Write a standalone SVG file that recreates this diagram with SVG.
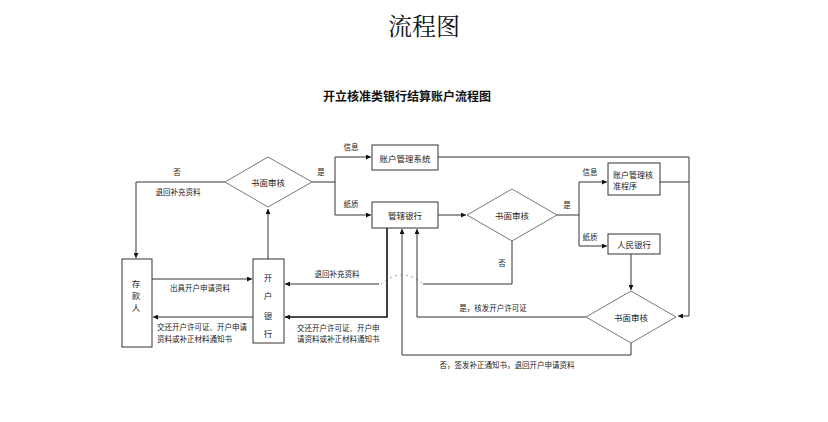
<svg xmlns="http://www.w3.org/2000/svg" width="828" height="422" viewBox="0 0 828 422">
<style>
text{font-family:"Noto Sans CJK SC","Liberation Sans",sans-serif;fill:#222}
.t{font-family:"Noto Serif CJK SC","Noto Sans CJK SC",serif;font-size:24px;text-anchor:middle;fill:#111}
.st{font-size:12px;font-weight:600;text-anchor:middle;fill:#111}
.n{font-size:8.5px;text-anchor:middle;dominant-baseline:central}
.l{font-size:7.5px}
.c{text-anchor:middle}
.box{fill:#fff;stroke:#333;stroke-width:1}
.dia{fill:#fff;stroke:#555;stroke-width:0.8}
.ln{fill:none;stroke:#333;stroke-width:1}
.th{fill:none;stroke:#111;stroke-width:1.6}
.dot{fill:none;stroke:#555;stroke-width:0.8;stroke-dasharray:1.5 4}
</style>
<defs>
<marker id="a" viewBox="0 0 10 10" refX="10" refY="5" markerWidth="5" markerHeight="5" orient="auto" markerUnits="userSpaceOnUse">
<path d="M0,0 L10,5 L0,10 z" fill="#111"/>
</marker>
</defs>
<rect width="828" height="422" fill="#fff"/>
<text class="t" x="424" y="35">流程图</text>
<text class="st" x="407" y="101">开立核准类银行结算账户流程图</text>

<g id="connectors">
<path class="ln" d="M225,182 H136 V258" marker-end="url(#a)"/>
<path class="ln" d="M312,182 H335"/>
<path class="ln" d="M335,157 V215"/>
<path class="ln" d="M335,157 H371" marker-end="url(#a)"/>
<path class="ln" d="M335,215 H371" marker-end="url(#a)"/>
<path class="ln" d="M438,157 H689 V316 H678" marker-end="url(#a)"/>
<path class="ln" d="M438,215 H466" marker-end="url(#a)"/>
<path class="ln" d="M557,215 H579"/>
<path class="ln" d="M579,182 V246"/>
<path class="ln" d="M579,182 H607" marker-end="url(#a)"/>
<path class="ln" d="M579,246 H607" marker-end="url(#a)"/>
<path class="ln" d="M660,182 H689"/>
<path class="ln" d="M631,254 V290" marker-end="url(#a)"/>
<path class="ln" d="M586,317 H417 V229" marker-end="url(#a)"/>
<path class="ln" d="M631,343 V355 H402 V229" marker-end="url(#a)"/>
<path class="th" d="M387,228 V317 H285" marker-end="url(#a)"/>
<path class="ln" d="M512,241 V284 H423"/>
<path class="dot" d="M381,284 Q402,266 423,284"/>
<path class="ln" d="M379,284 H285" marker-end="url(#a)"/>
<path class="ln" d="M152,279 H252" marker-end="url(#a)"/>
<path class="ln" d="M253,317 H153" marker-end="url(#a)"/>
<path class="ln" stroke="#777" d="M268,259 V209" marker-end="url(#a)"/>
</g>

<g id="labels">
<text class="l c" x="177" y="175">否</text>
<text class="l c" x="178" y="195">退回补充资料</text>
<text class="l c" x="321" y="175">是</text>
<text class="l c" x="351" y="150">信息</text>
<text class="l c" x="351" y="207">纸质</text>
<text class="l c" x="567" y="208">是</text>
<text class="l c" x="590" y="175">信息</text>
<text class="l c" x="590" y="240">纸质</text>
<text class="l c" x="502" y="266">否</text>
<text class="l c" x="337" y="277">退回补充资料</text>
<text class="l" x="297" y="331">交还开户许可证、开户申</text>
<text class="l" x="297" y="342">请资料或补正材料通知书</text>
<text class="l c" x="200" y="291">出具开户申请资料</text>
<text class="l" x="157" y="330">交还开户许可证、开户申请</text>
<text class="l" x="157" y="342">资料或补正材料通知书</text>
<text class="l c" x="493" y="311">是，核发开户许可证</text>
<text class="l c" x="507" y="368">否，签发补正通知书，退回开户申请资料</text>
</g>

<g id="audit1">
<path class="dia" d="M268,157 L312,182 L268,207 L225,182 z"/>
<text class="n" x="268" y="182">书面审核</text>
</g>
<g id="acctSystem">
<rect class="box" x="372" y="145" width="66" height="25"/>
<text class="n" x="405" y="157.5">账户管理系统</text>
</g>
<g id="supervisingBank">
<rect class="box" x="372" y="202" width="66" height="26"/>
<text class="n" x="405" y="215">管辖银行</text>
</g>
<g id="audit2">
<path class="dia" d="M512,189 L557,215 L512,241 L467,215 z"/>
<text class="n" x="512" y="215">书面审核</text>
</g>
<g id="approvalProgram">
<rect class="box" x="608" y="163" width="52" height="32"/>
<text class="n" x="613" y="174" style="text-anchor:start;font-size:8px">账户管理核</text>
<text class="n" x="613" y="185" style="text-anchor:start;font-size:8px">准程序</text>
</g>
<g id="pboc">
<rect class="box" x="608" y="234" width="52" height="20" stroke="#777"/>
<text class="n" x="634" y="244">人民银行</text>
</g>
<g id="audit3">
<path class="dia" d="M631,291 L676,317 L631,343 L586,317 z"/>
<text class="n" x="631" y="317">书面审核</text>
</g>
<g id="depositor">
<rect class="box" x="122" y="259" width="30" height="88"/>
<text class="n" x="136" y="283">存</text>
<text class="n" x="136" y="295">款</text>
<text class="n" x="136" y="307">人</text>
</g>
<g id="openingBank">
<rect class="box" x="253" y="259" width="31" height="84"/>
<text class="n" x="268" y="277">开</text>
<text class="n" x="268" y="295">户</text>
<text class="n" x="268" y="315">银</text>
<text class="n" x="268" y="333">行</text>
</g>
</svg>
